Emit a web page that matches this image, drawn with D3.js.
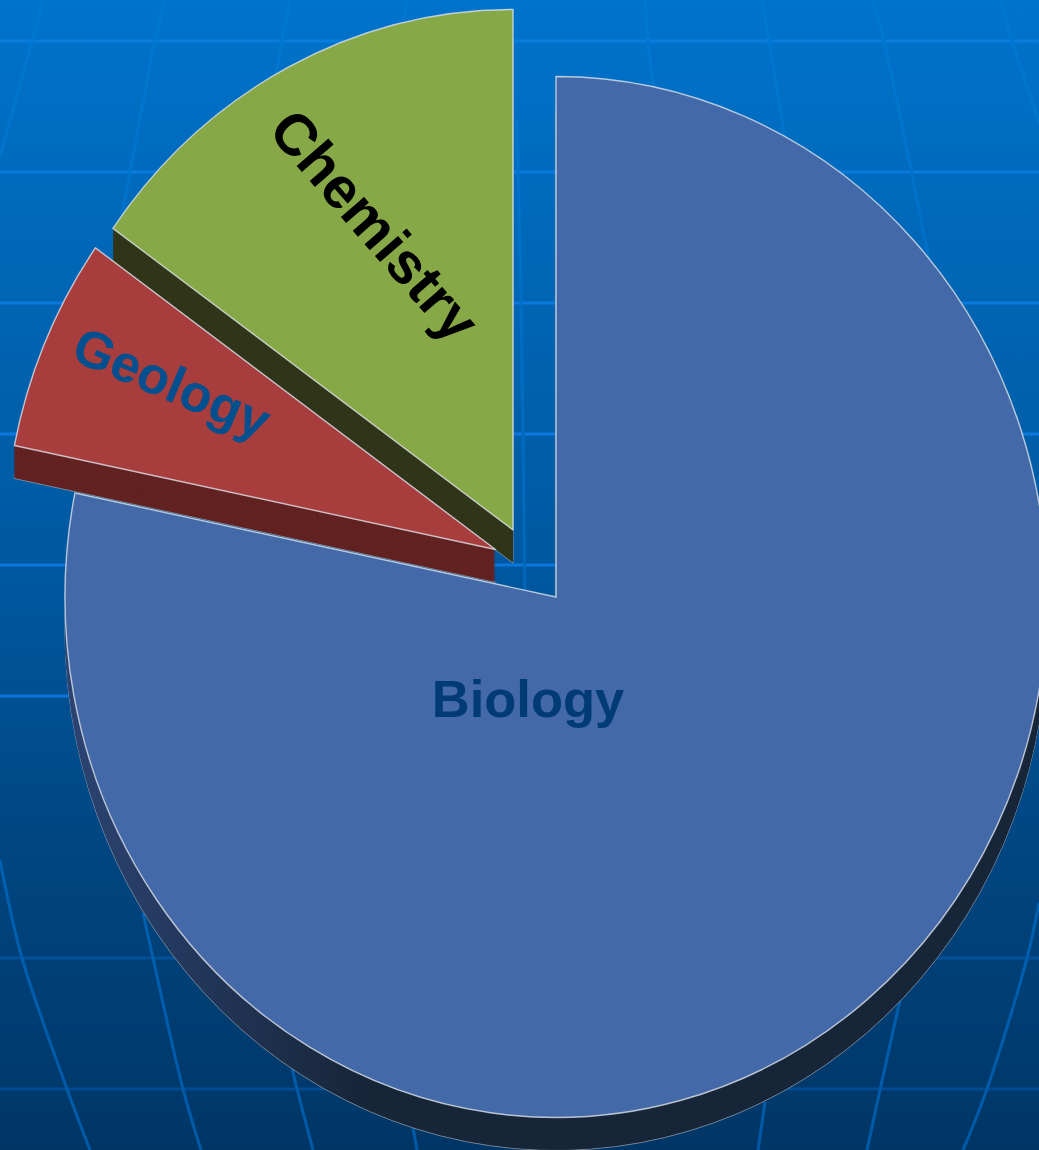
<!DOCTYPE html>
<html>
<head>
<meta charset="utf-8">
<style>
  html, body { margin: 0; padding: 0; overflow: hidden; }
  svg { display: block; }
  text { font-family: "Liberation Sans", Arial, sans-serif; font-weight: bold; }
</style>
</head>
<body>
<svg width="1039" height="1150"></svg>
<script src="https://cdn.jsdelivr.net/npm/d3@7"></script>
<script>
// data (percent)
var categories = ["Biology", "Geology", "Chemistry"];
var shares = [78.2, 6.64, 15.16];

// slice styling, same order as categories
var topColors = ["#4369a8", "#a83d3d", "#86a846"];
var wallColors = ["url(#wallShade)", "#632222", "#31361a"];
var labelColors = ["#003b78", "#00508f", "#000000"];
var labelSizes = [52.5, 52, 58];
var labelAngles = [0, 23, 49];
// how far each slice is pulled out, and where its label sits relative to the pie centre
var pullX = [0, -60.5, -43];
var pullY = [0, -47.5, -67];
var labelX = [-28, -384, -181];
var labelY = [101, -214, -372];
var drawOrder = [0, 2, 1];

var width = 1039,
  height = 1150,
  cx = 556,
  cy = 597,
  radius = 491,
  squash = 1.06,
  depth = 33;

// backdrop grid
var gridRows = [41, 172, 303, 434, 565, 696, 958, 1089];
var meridians = [
  [[43, 0], [32, 41], [0, 157]],
  [[165, 0], [155, 41], [130, 172], [122, 215]],
  [[290, 0], [282, 41], [275, 80]],
  [[407, 0], [404, 20]],
  [[517, 120], [521, 300], [525, 600]],
  [[645, 0], [648, 41], [654, 90]],
  [[762, 0], [770, 45], [785, 140]],
  [[873, 0], [884, 41], [935, 290]],
  [[1000, 0], [1012, 41], [1042, 130]],
  [[0, 860], [22, 958], [67, 1089], [90, 1150]],
  [[143, 913], [153, 958], [183, 1089], [201, 1150]],
  [[292, 1068], [297, 1089], [313, 1150]],
  [[413, 1128], [417, 1150]],
  [[765, 1102], [758, 1150]],
  [[900, 1000], [880, 1090], [867, 1150]],
  [[1039, 903], [1027, 958], [987, 1089], [963, 1150]]
];

var svg = d3.select("svg");
var defs = svg.append("defs");

function verticalGradient(id, stops) {
  var g = defs.append("linearGradient").attr("id", id)
    .attr("gradientUnits", "userSpaceOnUse")
    .attr("x1", 0).attr("y1", 0).attr("x2", 0).attr("y2", height);
  stops.forEach(function(s) {
    g.append("stop").attr("offset", s[0]).attr("stop-color", s[1]);
  });
}

verticalGradient("bg", [[0, "#0073cb"], [0.5, "#00589f"], [0.75, "#004580"], [1, "#003666"]]);
verticalGradient("rowLine", [[0, "#0a7cdf"], [0.6, "#0a76da"], [0.8, "#00519a"], [1, "#00498e"]]);
verticalGradient("colLine", [[0, "#0078d2"], [0.5, "#0068bc"], [1, "#005aa8"]]);

// wall paths sit in the pie's own coordinates, so x runs from the centre
var wallShade = defs.append("linearGradient").attr("id", "wallShade")
  .attr("gradientUnits", "userSpaceOnUse")
  .attr("x1", -490).attr("y1", 0).attr("x2", -190).attr("y2", 0);
wallShade.append("stop").attr("offset", 0).attr("stop-color", "#2c4473");
wallShade.append("stop").attr("offset", 1).attr("stop-color", "#162538");

svg.append("rect").attr("width", width).attr("height", height).attr("fill", "url(#bg)");

// userSpaceOnUse, so a straight line still picks up the gradient
svg.append("g").selectAll("rect").data(gridRows).join("rect")
  .attr("x", 0).attr("y", function(d) { return d - 1.5; })
  .attr("width", width).attr("height", 3)
  .attr("fill", "url(#rowLine)");

var meridianLine = d3.line().curve(d3.curveCatmullRom);
svg.append("g").selectAll("path").data(meridians).join("path")
  .attr("d", meridianLine)
  .attr("fill", "none")
  .attr("stroke", "url(#colLine)")
  .attr("stroke-width", 3);

var pie = d3.pie().sort(null);
var arc = d3.arc().innerRadius(0).outerRadius(radius);
var slices = pie(shares);

function sliceGroup(i, drop) {
  return "translate(" + (cx + pullX[i]) + "," + (cy + pullY[i] + drop) + ") scale(1," + squash + ")";
}

var pieLayer = svg.append("g");

drawOrder.forEach(function(i) {
  // wall: the slice swept straight down
  var wall = pieLayer.append("g");
  wall.selectAll("path").data(d3.range(depth, 0, -1)).join("path")
    .attr("transform", function(d) { return sliceGroup(i, d); })
    .attr("d", arc(slices[i]))
    .attr("fill", wallColors[i])
    .attr("stroke", function(d) { return d === depth ? "#8f98a6" : "none"; })
    .attr("stroke-width", 1)
    .attr("stroke-opacity", 0.8)
    .attr("vector-effect", "non-scaling-stroke");

  pieLayer.append("path")
    .attr("transform", sliceGroup(i, 0))
    .attr("d", arc(slices[i]))
    .attr("fill", topColors[i])
    .attr("stroke", "#dde2ea")
    .attr("stroke-opacity", 0.8)
    .attr("stroke-width", 1.4)
    .attr("stroke-linejoin", "round")
    .attr("vector-effect", "non-scaling-stroke");
});

svg.append("g").selectAll("text").data(categories).join("text")
  .attr("transform", function(d, i) {
    return "translate(" + (cx + labelX[i]) + "," + (cy + labelY[i]) + ") rotate(" + labelAngles[i] + ")";
  })
  .attr("text-anchor", "middle")
  .attr("dominant-baseline", "central")
  .attr("font-size", function(d, i) { return labelSizes[i]; })
  .attr("fill", function(d, i) { return labelColors[i]; })
  .text(function(d) { return d; });
</script>
</body>
</html>
